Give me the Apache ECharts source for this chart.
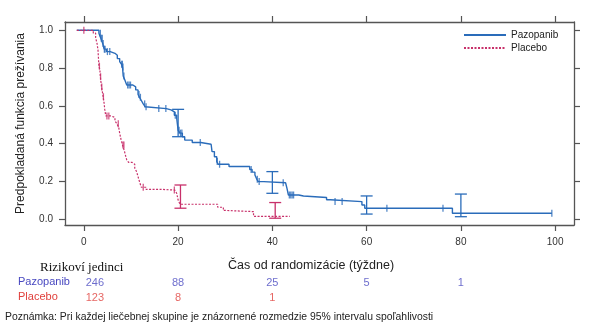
<!DOCTYPE html>
<html>
<head>
<meta charset="utf-8">
<script src="https://cdn.jsdelivr.net/npm/echarts@6/dist/echarts.min.js"></script>
<style>
  html, body { margin: 0; padding: 0; background: #fff; }
  #chart { width: 608px; height: 327px; }
</style>
</head>
<body>
<div id="chart"></div>
<script>
// Kaplan-Meier estimates: [weeks, survival probability] at each step
const pazopanibSteps = [
  [-1.5, 1.0], [2.7, 1.0], [3.2, 0.984], [3.6, 0.958], [4.0, 0.93], [4.3, 0.90],
  [4.8, 0.887], [5.6, 0.878], [6.6, 0.868], [7.1, 0.85], [7.6, 0.834], [8.0, 0.82],
  [8.2, 0.806], [8.35, 0.758], [8.7, 0.737], [9.1, 0.71], [10.4, 0.70], [11.0, 0.684],
  [11.5, 0.66], [11.8, 0.645], [12.2, 0.628], [12.6, 0.61], [13.0, 0.595], [13.3, 0.585],
  [17.5, 0.578], [18.5, 0.568], [19.2, 0.55], [19.7, 0.534], [20.0, 0.47], [20.4, 0.455],
  [20.9, 0.436], [21.4, 0.418], [23.0, 0.405], [24.8, 0.396], [27.0, 0.388], [27.2, 0.357],
  [27.7, 0.33], [28.2, 0.304], [28.5, 0.29], [30.8, 0.278], [35.2, 0.262], [35.7, 0.248],
  [36.3, 0.233], [36.7, 0.21], [37.0, 0.198], [38.2, 0.192], [42.8, 0.183], [43.1, 0.162],
  [43.4, 0.127], [45.6, 0.122], [46.6, 0.114], [51.5, 0.102], [52.3, 0.092], [59.0, 0.074],
  [59.6, 0.057], [78.2, 0.030], [99.3, 0.030]
];
const placeboSteps = [
  [-1.5, 1.0], [1.3, 1.0], [2.0, 0.985], [2.5, 0.96], [2.8, 0.93], [3.0, 0.896],
  [3.2, 0.81], [3.4, 0.79], [3.5, 0.754], [3.75, 0.70], [4.1, 0.648], [4.3, 0.613],
  [4.45, 0.578], [4.65, 0.546], [5.8, 0.538], [6.6, 0.52], [7.0, 0.505], [7.4, 0.485],
  [7.6, 0.455], [7.9, 0.42], [8.2, 0.392], [8.6, 0.36], [8.8, 0.34], [9.1, 0.313],
  [9.5, 0.30], [10.2, 0.29], [10.8, 0.27], [11.2, 0.25], [11.5, 0.224], [11.9, 0.19],
  [12.2, 0.168], [13.2, 0.157], [16.5, 0.153], [19.3, 0.147], [19.7, 0.136], [20.0, 0.10],
  [20.4, 0.078], [28.4, 0.062], [29.6, 0.045], [30.3, 0.039], [36.0, 0.014], [43.7, 0.014]
];

// Censored observations
const pazopanibCensored = [
  [3.5, 0.984], [3.7, 0.958], [3.9, 0.958], [4.1, 0.93], [4.35, 0.90], [4.5, 0.90],
  [5.0, 0.887], [5.5, 0.887], [8.05, 0.82], [8.15, 0.82], [8.3, 0.806], [8.5, 0.758],
  [9.3, 0.71], [9.6, 0.71], [9.9, 0.71], [11.7, 0.66], [12.0, 0.645], [12.9, 0.61],
  [13.2, 0.595], [15.9, 0.585], [17.4, 0.585], [19.4, 0.55], [20.2, 0.47], [20.5, 0.455],
  [20.8, 0.455], [24.7, 0.405], [28.3, 0.304], [28.8, 0.29], [35.5, 0.262], [36.8, 0.21],
  [37.2, 0.198], [42.3, 0.192], [43.6, 0.127], [43.9, 0.127], [44.2, 0.127], [44.5, 0.127],
  [53.3, 0.092], [54.8, 0.092], [64.3, 0.057], [76.2, 0.057], [99.3, 0.030]
];
const placeboCensored = [
  [0.0, 1.0], [3.3, 0.81], [3.55, 0.754], [3.8, 0.70], [4.15, 0.648], [4.9, 0.546],
  [5.3, 0.546], [7.3, 0.505], [8.3, 0.392], [8.5, 0.392], [12.6, 0.168], [19.2, 0.153]
];

// 95% confidence intervals: [weeks, lower, upper]
const pazopanibCI = [[20.0, 0.436, 0.581], [40.0, 0.136, 0.251], [60.0, 0.026, 0.122], [80.0, 0.012, 0.132]];
const placeboCI = [[20.5, 0.057, 0.180], [40.6, 0.004, 0.087]];

// Number at risk
const riskTimes = [0, 20, 40, 60, 80];
const pazopanibAtRisk = [246, 88, 25, 5, 1];
const placeboAtRisk = [123, 8, 1];

const xTicks = [0, 20, 40, 60, 80, 100];
const yTicks = [0.0, 0.2, 0.4, 0.6, 0.8, 1.0];

const BLUE = '#2a6cba';
const RED = '#c8306a';
const TEXT = '#333';

function ciSeries(name, data, color) {
  return {
    name: name,
    type: 'custom',
    xAxisIndex: 0, yAxisIndex: 0,
    data: data,
    encode: { x: 0, y: [1, 2] },
    z: 4,
    renderItem: function (params, api) {
      const t = api.value(0);
      const lo = api.coord([t, api.value(1)]);
      const hi = api.coord([t, api.value(2)]);
      const w = 6;
      const st = { stroke: color, lineWidth: 1.3 };
      return {
        type: 'group',
        children: [
          { type: 'line', shape: { x1: lo[0], y1: lo[1], x2: hi[0], y2: hi[1] }, style: st },
          { type: 'line', shape: { x1: lo[0] - w, y1: lo[1], x2: lo[0] + w, y2: lo[1] }, style: st },
          { type: 'line', shape: { x1: hi[0] - w, y1: hi[1], x2: hi[0] + w, y2: hi[1] }, style: st }
        ]
      };
    }
  };
}

function censorSeries(name, data, color) {
  return {
    name: name,
    type: 'scatter',
    xAxisIndex: 0, yAxisIndex: 0,
    data: data,
    symbol: 'rect',
    symbolSize: [1.3, 7],
    itemStyle: { color: color },
    z: 3,
    silent: true
  };
}

function riskSeries(name, values, color) {
  return {
    name: name,
    type: 'scatter',
    xAxisIndex: 2, yAxisIndex: 2,
    symbolSize: 0,
    data: values.map(function (v, i) {
      return {
        value: [riskTimes[i], name, v],
        label: { offset: i === 0 ? [11, 0] : [0, 0] }
      };
    }),
    label: {
      show: true, position: 'inside', color: color, fontSize: 11,
      fontFamily: 'Liberation Sans',
      formatter: function (p) { return String(p.value[2]); }
    },
    silent: true
  };
}

const frameLine = { show: true, onZero: false, lineStyle: { color: '#555', width: 1.3 } };
const tickStyle = { show: true, inside: false, length: 6, lineStyle: { color: '#555', width: 1.2 } };

const chart = echarts.init(document.getElementById('chart'), null, { renderer: 'canvas' });
chart.setOption({
  animation: false,
  backgroundColor: '#fff',
  grid: [
    { left: 65, right: 34, top: 22, bottom: 102 },
    { left: 65, right: 34, top: 275, height: 30 }
  ],
  xAxis: [
    {
      type: 'value', gridIndex: 0, position: 'bottom', min: -4, max: 104,
      axisLine: frameLine,
      axisTick: Object.assign({ customValues: xTicks }, tickStyle),
      axisLabel: { customValues: xTicks, color: TEXT, fontSize: 10, margin: 12, fontFamily: 'Liberation Sans' },
      splitLine: { show: false }
    },
    {
      type: 'value', gridIndex: 0, position: 'top', min: -4, max: 104,
      axisLine: frameLine,
      axisTick: Object.assign({ customValues: xTicks }, tickStyle),
      axisLabel: { show: false },
      splitLine: { show: false }
    },
    {
      type: 'value', gridIndex: 1, min: -4, max: 104, show: false
    }
  ],
  yAxis: [
    {
      type: 'value', gridIndex: 0, position: 'left', min: -0.032, max: 1.044,
      axisLine: frameLine,
      axisTick: Object.assign({ customValues: yTicks }, tickStyle),
      axisLabel: {
        customValues: yTicks, color: TEXT, fontSize: 10, margin: 12, fontFamily: 'Liberation Sans',
        formatter: function (v) { return v.toFixed(1); }
      },
      splitLine: { show: false },
      name: 'Predpokladaná funkcia prežívania',
      nameLocation: 'middle',
      nameGap: 38,
      nameTextStyle: { color: '#222', fontSize: 12, fontFamily: 'Liberation Sans' }
    },
    {
      type: 'value', gridIndex: 0, position: 'right', min: -0.032, max: 1.044,
      axisLine: frameLine,
      axisTick: Object.assign({ customValues: yTicks }, tickStyle),
      axisLabel: { show: false },
      splitLine: { show: false }
    },
    {
      type: 'category', gridIndex: 1, data: ['Pazopanib', 'Placebo'], inverse: true, show: false
    }
  ],
  legend: {
    data: ['Pazopanib', 'Placebo'],
    orient: 'vertical',
    left: 458, top: 25,
    itemWidth: 42, itemHeight: 8, itemGap: 3,
    itemStyle: { opacity: 0 },
    textStyle: { color: '#222', fontSize: 10, fontFamily: 'Liberation Sans' },
    selectedMode: false
  },
  series: [
    {
      name: 'Pazopanib', type: 'line', step: 'end',
      xAxisIndex: 0, yAxisIndex: 0,
      data: pazopanibSteps, showSymbol: false, symbol: 'none', clip: false,
      lineStyle: { color: BLUE, width: 1.4 }, itemStyle: { color: BLUE }, z: 3
    },
    {
      name: 'Placebo', type: 'line', step: 'end',
      xAxisIndex: 0, yAxisIndex: 0,
      data: placeboSteps, showSymbol: false, symbol: 'none', clip: false,
      lineStyle: { color: RED, width: 1.2, type: [2, 1.5] }, itemStyle: { color: RED }, z: 3
    },
    censorSeries('Pazopanib cenzúra', pazopanibCensored, BLUE),
    censorSeries('Placebo cenzúra', placeboCensored, RED),
    ciSeries('Pazopanib 95% IS', pazopanibCI, BLUE),
    ciSeries('Placebo 95% IS', placeboCI, RED),
    riskSeries('Pazopanib', pazopanibAtRisk, '#4848c0'),
    riskSeries('Placebo', placeboAtRisk, '#e0403c')
  ],
  graphic: [
    {
      type: 'text', left: 228, top: 259,
      style: { text: 'Čas od randomizácie (týždne)', fill: '#222', font: '12.5px "Liberation Sans"' }
    },
    {
      type: 'text', left: 40, top: 261,
      style: { text: 'Rizikoví jedinci', fill: '#111', font: '13px "Liberation Serif"' }
    },
    {
      type: 'text', left: 18, top: 276,
      style: { text: 'Pazopanib', fill: '#4848c0', font: '11px "Liberation Sans"' }
    },
    {
      type: 'text', left: 18, top: 291,
      style: { text: 'Placebo', fill: '#e0403c', font: '11px "Liberation Sans"' }
    },
    {
      type: 'text', left: 5, top: 312,
      style: { text: 'Poznámka: Pri každej liečebnej skupine je znázornené rozmedzie 95% intervalu spoľahlivosti', fill: '#222', font: '10.4px "Liberation Sans"' }
    }
  ]
});
</script>
</body>
</html>
